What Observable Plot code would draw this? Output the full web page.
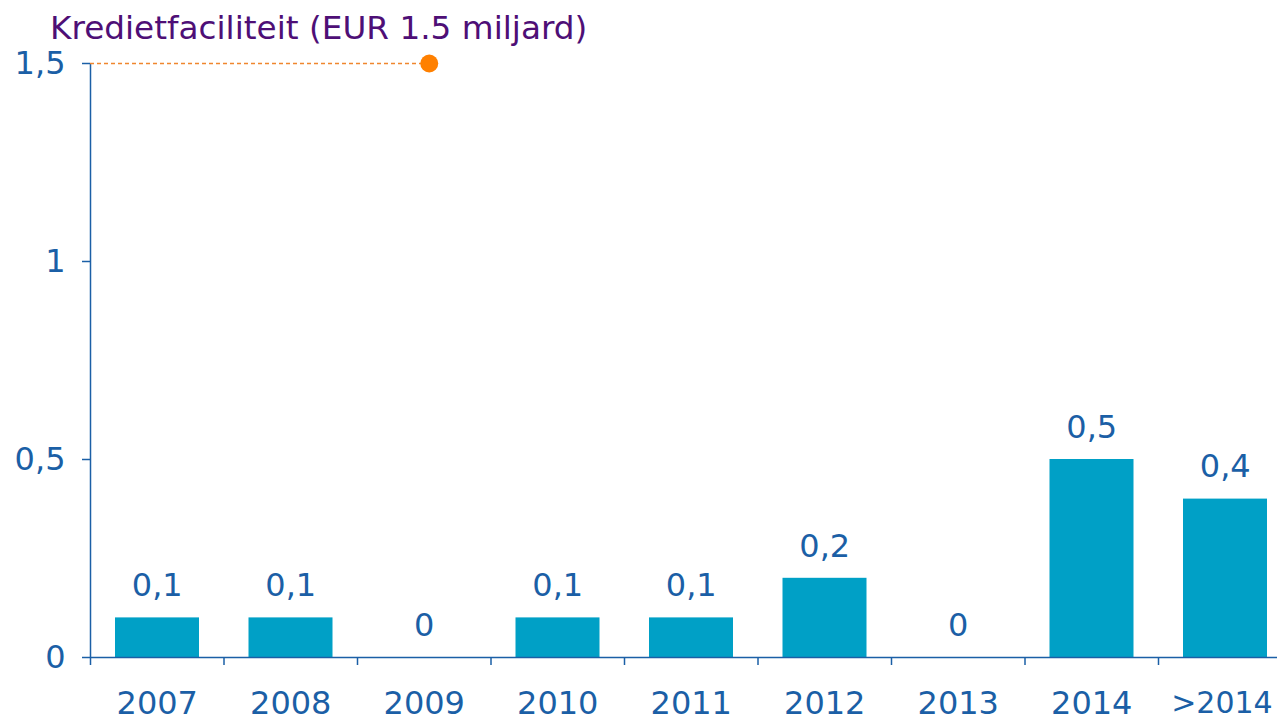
<!DOCTYPE html>
<html>
<head>
<meta charset="utf-8">
<script src="https://cdn.jsdelivr.net/npm/d3@7"></script>
<script src="https://cdn.jsdelivr.net/npm/@observablehq/plot@0.6"></script>
<style>
  html, body { margin: 0; padding: 0; background: #fff; }
  #wrap { position: relative; width: 1277px; height: 722px; overflow: hidden; }
  #title { position: absolute; left: 50px; top: 12px; font-family: "DejaVu Sans", sans-serif; font-size: 32.7px; line-height: 32px; color: #4e0f76; white-space: nowrap; }
</style>
</head>
<body>
<div id="wrap">
  <div id="title">Kredietfaciliteit (EUR 1.5 miljard)</div>
</div>
<script>
const categories = ["2007", "2008", "2009", "2010", "2011", "2012", "2013", "2014", ">2014"];
const values = [0.1, 0.1, 0, 0.1, 0.1, 0.2, 0, 0.5, 0.4];
const yTicks = [0, 0.5, 1, 1.5];
const facilityValue = 1.5;
const facilityCategory = "2009";

const blue = "#1b5fa6";
const barColor = "#00a0c6";
const orange = "#ff8000";
const font = "DejaVu Sans";

const data = categories.map((c, i) => ({cat: c, i, value: values[i]}));
const comma = d => String(d).replace(".", ",");
const fi = categories.indexOf(facilityCategory);
const lastIdx = categories.length - 1;

const chart = Plot.plot({
  width: 1277,
  height: 722,
  marginTop: 63,
  marginBottom: 65,
  marginLeft: 90,
  marginRight: 0,
  style: {fontFamily: font, fontSize: "32px", color: blue, background: "transparent", overflow: "visible"},
  x: {type: "linear", domain: [0, categories.length], range: [90, 1291.5], axis: null},
  y: {domain: [0, 1.5], axis: null},
  marks: [
    Plot.rectY(data, {x1: d => d.i, x2: d => d.i + 1, y1: 0, y2: "value", fill: barColor, insetLeft: 25, insetRight: 24.5}),
    Plot.text(data, {x: d => d.i + 0.5, y: "value", text: d => comma(d.value), fill: blue, dy: -32, fontSize: 32}),
    Plot.ruleY([0], {stroke: blue, strokeWidth: 1.5}),
    Plot.ruleX([0], {y1: 0, y2: 1.5, stroke: blue, strokeWidth: 1.5}),
    Plot.axisX(d3.range(categories.length), {tickSize: 8, tickFormat: () => "", stroke: blue, strokeWidth: 1.5, label: null}),
    Plot.text(data, {
      x: d => d.i + 0.5 - (d.i === lastIdx ? 0.025 : 0),
      y: 0,
      text: "cat",
      lineAnchor: "top",
      dy: 34,
      fill: blue,
      fontSize: d => (d.i === lastIdx ? 30 : 32)
    }),
    Plot.axisY(yTicks, {tickSize: 8, tickPadding: 17, tickFormat: comma, stroke: blue, strokeWidth: 1.5, fill: blue, fontSize: 32, label: null}),
    Plot.ruleY([facilityValue], {x1: 0, x2: fi + 0.5, stroke: "#f0862e", strokeWidth: 1.5, strokeDasharray: "4,3"}),
    Plot.dot([facilityValue], {x: () => fi + 0.5, y: d => d, r: 9, fill: orange, stroke: "none", dx: 5})
  ]
});
document.getElementById("wrap").appendChild(chart);
</script>
</body>
</html>
